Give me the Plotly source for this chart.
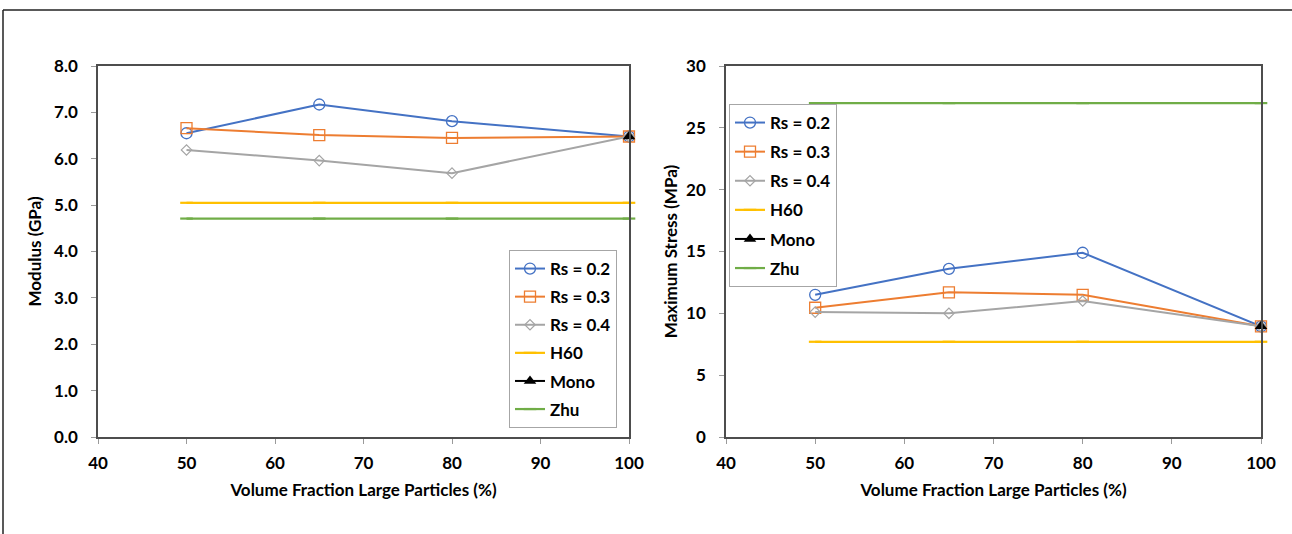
import plotly.graph_objects as go

W, H = 1292, 534

x_vals = [50, 65, 80, 100]

# Modulus (GPa)
mod_rs02 = [6.55, 7.17, 6.81, 6.48]
mod_rs03 = [6.66, 6.51, 6.45, 6.48]
mod_rs04 = [6.19, 5.96, 5.69, 6.48]
mod_h60 = [5.05, 5.05, 5.05, 5.05]
mod_zhu = [4.71, 4.71, 4.71, 4.71]
mod_mono_x = [100]
mod_mono = [6.48]

# Maximum stress (MPa)
str_rs02 = [11.5, 13.6, 14.9, 8.95]
str_rs03 = [10.45, 11.7, 11.5, 8.95]
str_rs04 = [10.1, 10.0, 11.0, 8.95]
str_h60 = [7.7, 7.7, 7.7, 7.7]
str_zhu = [27.0, 27.0, 27.0, 27.0]
str_mono_x = [100]
str_mono = [8.95]

names = ["Rs = 0.2", "Rs = 0.3", "Rs = 0.4", "H60", "Mono", "Zhu"]
colors = ["#4472C4", "#ED7D31", "#A5A5A5", "#FFC000", "#000000", "#70AD47"]

FONT = "Lato, Carlito, 'Open Sans', sans-serif"

fig = go.Figure()


def add_set(xa, ya, legend, s02, s03, s04, h60, mono_x, mono, zhu):
    common = dict(xaxis=xa, yaxis=ya, legend=legend, cliponaxis=False)
    fig.add_trace(go.Scatter(x=x_vals, y=s02, name=names[0], mode="lines+markers",
                             line=dict(color=colors[0], width=2),
                             marker=dict(symbol="circle-open", size=11, color=colors[0], line=dict(width=1.3)),
                             legendgroup=legend + "a", **common))
    fig.add_trace(go.Scatter(x=x_vals, y=s03, name=names[1], mode="lines+markers",
                             line=dict(color=colors[1], width=2),
                             marker=dict(symbol="square-open", size=11, color=colors[1], line=dict(width=1.3)),
                             legendgroup=legend + "b", **common))
    fig.add_trace(go.Scatter(x=x_vals, y=s04, name=names[2], mode="lines+markers",
                             line=dict(color=colors[2], width=2),
                             marker=dict(symbol="diamond-open", size=8, color=colors[2], line=dict(width=1.2)),
                             legendgroup=legend + "c", **common))
    fig.add_trace(go.Scatter(x=x_vals, y=h60, name=names[3], mode="lines+markers",
                             line=dict(color=colors[3], width=2.2),
                             marker=dict(symbol="line-ew", size=9, color=colors[3], line=dict(width=2.2, color=colors[3])),
                             legendgroup=legend + "d", **common))
    fig.add_trace(go.Scatter(x=x_vals, y=zhu, name=names[5], mode="lines+markers",
                             line=dict(color=colors[5], width=2.2),
                             marker=dict(symbol="line-ew", size=9, color=colors[5], line=dict(width=2.2, color=colors[5])),
                             legendgroup=legend + "f", legendrank=1006, **common))
    fig.add_trace(go.Scatter(x=mono_x, y=mono, name=names[4], mode="lines+markers",
                             line=dict(color=colors[4], width=2),
                             marker=dict(symbol="triangle-up", size=11, color=colors[4]),
                             legendgroup=legend + "e", legendrank=1005, **common))


add_set("x", "y", "legend", mod_rs02, mod_rs03, mod_rs04, mod_h60, mod_mono_x, mod_mono, mod_zhu)
add_set("x2", "y2", "legend2", str_rs02, str_rs03, str_rs04, str_h60, str_mono_x, str_mono, str_zhu)

ytop = 1 - 66 / H
ybot = 1 - 437 / H

axis_common = dict(showline=True, mirror=True, linecolor="#4d4d4d", linewidth=1.5,
                   showgrid=False, zeroline=False, ticks="outside", ticklen=5,
                   tickcolor="#9a9a9a", tickwidth=1,
                   tickfont=dict(family=FONT, size=17, color="#000000"))

title_font = dict(family=FONT, size=17, color="#000000", weight="bold")
legend_font = dict(family=FONT, size=17, color="#000000", weight="bold")

fig.update_layout(
    width=W, height=H,
    margin=dict(l=0, r=0, t=0, b=0, autoexpand=False),
    paper_bgcolor="white", plot_bgcolor="white",
    font=dict(family=FONT, weight="bold"),
    xaxis=dict(domain=[98 / W, 629 / W], range=[40, 100], tickvals=[40, 50, 60, 70, 80, 90, 100],
               anchor="y", automargin=False, ticklabelstandoff=5,
               title=dict(text="Volume Fraction Large Particles (%)", font=title_font, standoff=12),
               **axis_common),
    yaxis=dict(domain=[ybot, ytop], range=[0, 8], tickvals=[0, 1, 2, 3, 4, 5, 6, 7, 8],
               tickformat=".1f", anchor="x", automargin=False, ticklabelstandoff=10,
               title=dict(text="Modulus (GPa)", font=title_font, standoff=8),
               **axis_common),
    xaxis2=dict(domain=[726 / W, 1261 / W], range=[40, 100], tickvals=[40, 50, 60, 70, 80, 90, 100],
                anchor="y2", automargin=False, ticklabelstandoff=5,
                title=dict(text="Volume Fraction Large Particles (%)", font=title_font, standoff=12),
                **axis_common),
    yaxis2=dict(domain=[ybot, ytop], range=[0, 30], tickvals=[0, 5, 10, 15, 20, 25, 30],
                anchor="x2", automargin=False, ticklabelstandoff=10,
                title=dict(text="Maximum Stress (MPa)", font=title_font, standoff=4),
                **axis_common),
    legend=dict(x=509 / W, y=1 - 250 / H, xanchor="left", yanchor="top",
                bordercolor="#a6a6a6", borderwidth=1, bgcolor="white",
                font=legend_font, itemwidth=30, tracegroupgap=3, traceorder="grouped"),
    legend2=dict(x=729 / W, y=1 - 104 / H, xanchor="left", yanchor="top",
                 bordercolor="#a6a6a6", borderwidth=1, bgcolor="white",
                 font=legend_font, itemwidth=30, tracegroupgap=4, traceorder="grouped"),
    shapes=[
        dict(type="line", xref="paper", yref="paper", x0=3 / W, x1=1.0, y0=1 - 10 / H, y1=1 - 10 / H,
             line=dict(color="#222222", width=1.5)),
        dict(type="line", xref="paper", yref="paper", x0=3 / W, x1=3 / W, y0=0, y1=1 - 10 / H,
             line=dict(color="#222222", width=1.5)),
    ],
)

fig.write_html("out.html")
